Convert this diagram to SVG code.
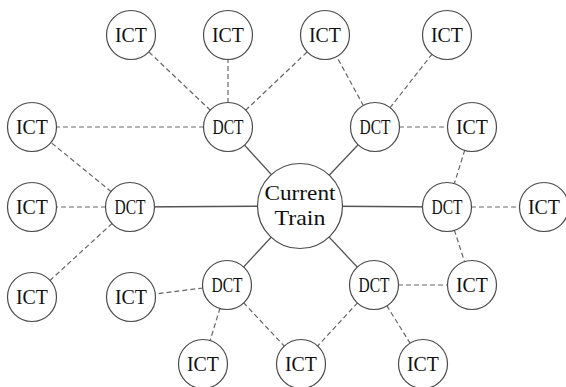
<svg xmlns="http://www.w3.org/2000/svg" width="566" height="387" viewBox="0 0 566 387">
<style>
.n{fill:#fff;stroke:#4a4a4a;stroke-width:1.2}
.t{font-family:"Liberation Serif","DejaVu Serif",serif;font-size:22px;fill:#111;text-anchor:middle}
.c{font-family:"Liberation Serif","DejaVu Serif",serif;font-size:21px;fill:#111;text-anchor:middle}
.s{stroke:#555;stroke-width:1.3;fill:none}
.d{stroke:#666;stroke-width:1.2;stroke-dasharray:5 3;fill:none}
</style>
<rect width="566" height="387" fill="#fff"/>
<g id="connectors">
<line class="s" x1="300" y1="206" x2="228" y2="127"/>
<line class="s" x1="300" y1="206" x2="375" y2="127"/>
<line class="s" x1="300" y1="206" x2="130" y2="207"/>
<line class="s" x1="300" y1="206" x2="447" y2="207"/>
<line class="s" x1="300" y1="206" x2="227" y2="285"/>
<line class="s" x1="300" y1="206" x2="374" y2="285"/>
<line class="d" x1="228" y1="127" x2="131" y2="35"/>
<line class="d" x1="228" y1="127" x2="228" y2="35"/>
<line class="d" x1="228" y1="127" x2="325" y2="35"/>
<line class="d" x1="228" y1="127" x2="32" y2="127"/>
<line class="d" x1="375" y1="127" x2="325" y2="35"/>
<line class="d" x1="375" y1="127" x2="447" y2="35"/>
<line class="d" x1="375" y1="127" x2="472" y2="127"/>
<line class="d" x1="472" y1="127" x2="447" y2="207"/>
<line class="d" x1="130" y1="207" x2="32" y2="127"/>
<line class="d" x1="130" y1="207" x2="32" y2="207"/>
<line class="d" x1="130" y1="207" x2="32" y2="297"/>
<line class="d" x1="447" y1="207" x2="544" y2="207"/>
<line class="d" x1="447" y1="207" x2="472" y2="285"/>
<line class="d" x1="227" y1="285" x2="131" y2="297"/>
<line class="d" x1="227" y1="285" x2="203" y2="364"/>
<line class="d" x1="227" y1="285" x2="301" y2="364"/>
<line class="d" x1="374" y1="285" x2="472" y2="285"/>
<line class="d" x1="374" y1="285" x2="301" y2="364"/>
<line class="d" x1="374" y1="285" x2="423" y2="364"/>
</g>
<g id="train"><circle class="n" cx="300" cy="206" r="42.5"/><text class="c" x="300" y="200" textLength="71" lengthAdjust="spacingAndGlyphs">Current</text><text class="c" x="300" y="225" textLength="51" lengthAdjust="spacingAndGlyphs">Train</text></g>
<g id="dct1"><circle class="n" cx="228" cy="127" r="24.5"/><text class="t" x="228" y="134" textLength="31" lengthAdjust="spacingAndGlyphs">DCT</text></g>
<g id="dct2"><circle class="n" cx="375" cy="127" r="24.5"/><text class="t" x="375" y="134" textLength="31" lengthAdjust="spacingAndGlyphs">DCT</text></g>
<g id="dct3"><circle class="n" cx="130" cy="207" r="24.5"/><text class="t" x="130" y="214" textLength="31" lengthAdjust="spacingAndGlyphs">DCT</text></g>
<g id="dct4"><circle class="n" cx="447" cy="207" r="24.5"/><text class="t" x="447" y="214" textLength="31" lengthAdjust="spacingAndGlyphs">DCT</text></g>
<g id="dct5"><circle class="n" cx="227" cy="285" r="24.5"/><text class="t" x="227" y="292" textLength="31" lengthAdjust="spacingAndGlyphs">DCT</text></g>
<g id="dct6"><circle class="n" cx="374" cy="285" r="24.5"/><text class="t" x="374" y="292" textLength="31" lengthAdjust="spacingAndGlyphs">DCT</text></g>
<g id="ict1"><circle class="n" cx="131" cy="35" r="24.5"/><text class="t" x="131" y="42" textLength="32" lengthAdjust="spacingAndGlyphs">ICT</text></g>
<g id="ict2"><circle class="n" cx="228" cy="35" r="24.5"/><text class="t" x="228" y="42" textLength="32" lengthAdjust="spacingAndGlyphs">ICT</text></g>
<g id="ict3"><circle class="n" cx="325" cy="35" r="24.5"/><text class="t" x="325" y="42" textLength="32" lengthAdjust="spacingAndGlyphs">ICT</text></g>
<g id="ict4"><circle class="n" cx="447" cy="35" r="24.5"/><text class="t" x="447" y="42" textLength="32" lengthAdjust="spacingAndGlyphs">ICT</text></g>
<g id="ict5"><circle class="n" cx="32" cy="127" r="24.5"/><text class="t" x="32" y="134" textLength="32" lengthAdjust="spacingAndGlyphs">ICT</text></g>
<g id="ict6"><circle class="n" cx="472" cy="127" r="24.5"/><text class="t" x="472" y="134" textLength="32" lengthAdjust="spacingAndGlyphs">ICT</text></g>
<g id="ict7"><circle class="n" cx="32" cy="207" r="24.5"/><text class="t" x="32" y="214" textLength="32" lengthAdjust="spacingAndGlyphs">ICT</text></g>
<g id="ict8"><circle class="n" cx="544" cy="207" r="24.5"/><text class="t" x="544" y="214" textLength="32" lengthAdjust="spacingAndGlyphs">ICT</text></g>
<g id="ict9"><circle class="n" cx="32" cy="297" r="24.5"/><text class="t" x="32" y="304" textLength="32" lengthAdjust="spacingAndGlyphs">ICT</text></g>
<g id="ict10"><circle class="n" cx="131" cy="297" r="24.5"/><text class="t" x="131" y="304" textLength="32" lengthAdjust="spacingAndGlyphs">ICT</text></g>
<g id="ict11"><circle class="n" cx="472" cy="285" r="24.5"/><text class="t" x="472" y="292" textLength="32" lengthAdjust="spacingAndGlyphs">ICT</text></g>
<g id="ict12"><circle class="n" cx="203" cy="364" r="24.5"/><text class="t" x="203" y="371" textLength="32" lengthAdjust="spacingAndGlyphs">ICT</text></g>
<g id="ict13"><circle class="n" cx="301" cy="364" r="24.5"/><text class="t" x="301" y="371" textLength="32" lengthAdjust="spacingAndGlyphs">ICT</text></g>
<g id="ict14"><circle class="n" cx="423" cy="364" r="24.5"/><text class="t" x="423" y="371" textLength="32" lengthAdjust="spacingAndGlyphs">ICT</text></g>
</svg>
